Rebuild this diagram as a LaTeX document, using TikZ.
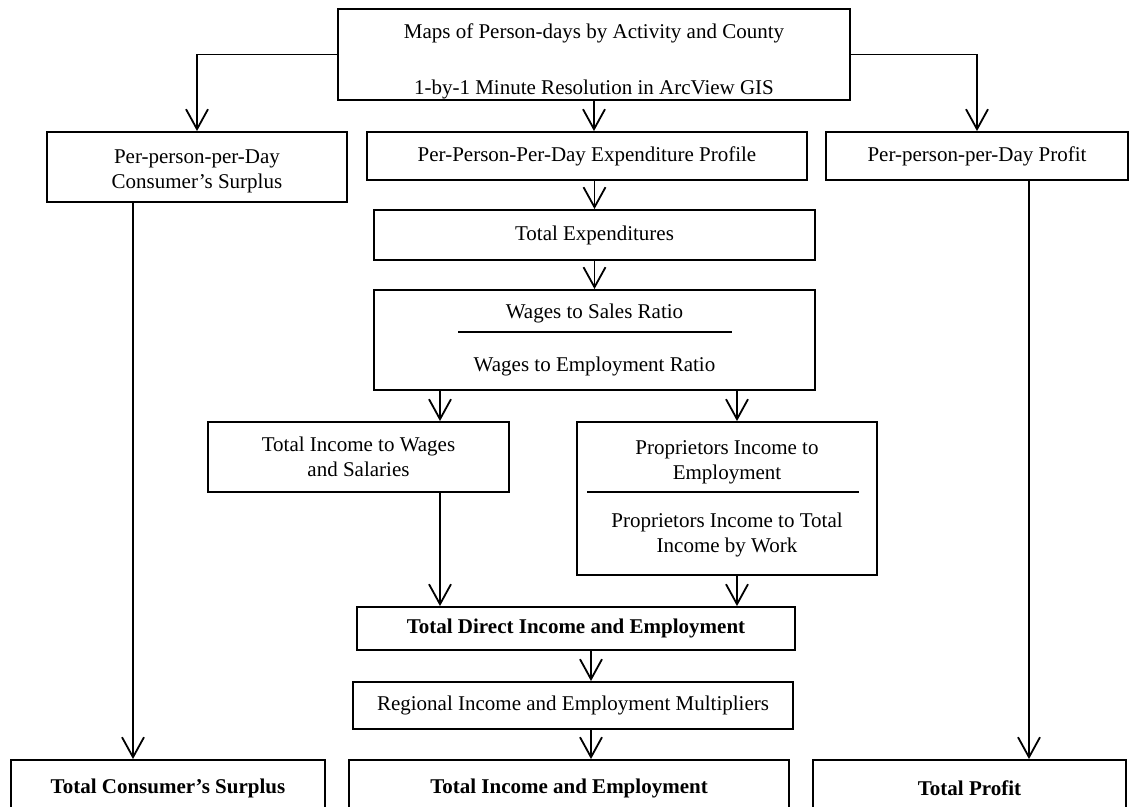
\documentclass[tikz,border=0pt]{standalone}
\usepackage{fontspec}
\setmainfont{Liberation Serif}
\usetikzlibrary{arrows.meta}
\tikzset{
  box/.style={draw, line width=1.9pt, align=center, inner sep=0pt,
    font=\fontsize{21}{25}\selectfont},
  bbox/.style={box, font=\fontsize{21}{25}\selectfont\bfseries},
  txt/.style={align=center, inner sep=0pt, font=\fontsize{21}{25}\selectfont},
  conn/.style={line width=1.8pt, -{Straight Barb[length=20pt,width=22pt]}},
  rule/.style={line width=1.8pt}
}

\begin{document}
\begin{tikzpicture}[x=1pt,y=-1pt]
  \useasboundingbox (0,0) rectangle (1138,806);
  \clip (0,0) rectangle (1138,806);

  \coordinate (cx) at (133,0);
  \coordinate (lx) at (440,0);
  \coordinate (mx) at (591,0);
  \coordinate (rx) at (737,0);
  \coordinate (px) at (1029,0);

  \node[box, minimum width=512pt, minimum height=91pt] (Maps) at (594,54.5) {};
  \node[txt] (MapsTxt) at (594,61)
    {Maps of Person-days by Activity and County\\[31pt]1-by-1 Minute Resolution in ArcView GIS};
  \node[box, minimum width=300pt, minimum height=70pt] (CS) at (197,167) {};
  \node[txt] (CSTxt) at (197,171) {Per-person-per-Day\\Consumer's Surplus};
  \node[box, minimum width=440pt, minimum height=48pt] (Prof) at (587,156)
    {Per-Person-Per-Day Expenditure Profile};
  \node[box, minimum width=302pt, minimum height=48pt] (Prft) at (977,156)
    {Per-person-per-Day Profit};
  \node[box, minimum width=441pt, minimum height=50pt] (Exp) at (594.5,235)
    {Total Expenditures};
  \node[box, minimum width=441pt, minimum height=100pt] (Wag) at (594.5,340)
    {Wages to Sales Ratio\\[28pt]Wages to Employment Ratio};
  \node[box, minimum width=301pt, minimum height=70pt] (TIW) at (358.5,457)
    {Total Income to Wages\\and Salaries};
  \node[box, minimum width=300pt, minimum height=153pt] (Prop) at (727,498.5)
    {Proprietors Income to\\Employment\\[23pt]Proprietors Income to Total\\Income by Work};
  \node[bbox, minimum width=438pt, minimum height=43pt] (Dir) at (576,628.5)
    {Total Direct Income and Employment};
  \node[box, minimum width=440pt, minimum height=47pt] (Reg) at (573,705.5)
    {Regional Income and Employment Multipliers};
  \node[bbox, minimum width=314pt, minimum height=56pt] (TCS) at (168,788)
    {Total Consumer's Surplus};
  \node[bbox, minimum width=440pt, minimum height=56pt] (TIE) at (569,788)
    {Total Income and Employment};
  \node[bbox, minimum width=313pt, minimum height=56pt] (TP) at (969.5,788)
    {Total Profit};

  \draw[rule] (458,332) -- (732,332);
  \draw[rule] (587,492) -- (859,492);

  \draw[conn] (Maps.west) -| (CS.north);
  \draw[conn] (Maps.east) -| (Prft.north);
  \draw[conn] (Maps.south) -- (Maps.south |- Prof.north);
  \draw[conn] (Exp.north |- Prof.south) -- (Exp.north);
  \draw[conn] (Exp.south) -- (Wag.north);
  \draw[conn] (Wag.south -| lx) -- (TIW.north -| lx);
  \draw[conn] (Wag.south -| rx) -- (Prop.north -| rx);
  \draw[conn] (TIW.south -| lx) -- (Dir.north -| lx);
  \draw[conn] (Prop.south -| rx) -- (Dir.north -| rx);
  \draw[conn] (Dir.south -| mx) -- (Reg.north -| mx);
  \draw[conn] (Reg.south -| mx) -- (TIE.north -| mx);
  \draw[conn] (CS.south -| cx) -- (TCS.north -| cx);
  \draw[conn] (Prft.south -| px) -- (TP.north -| px);

\end{tikzpicture}
\end{document}
